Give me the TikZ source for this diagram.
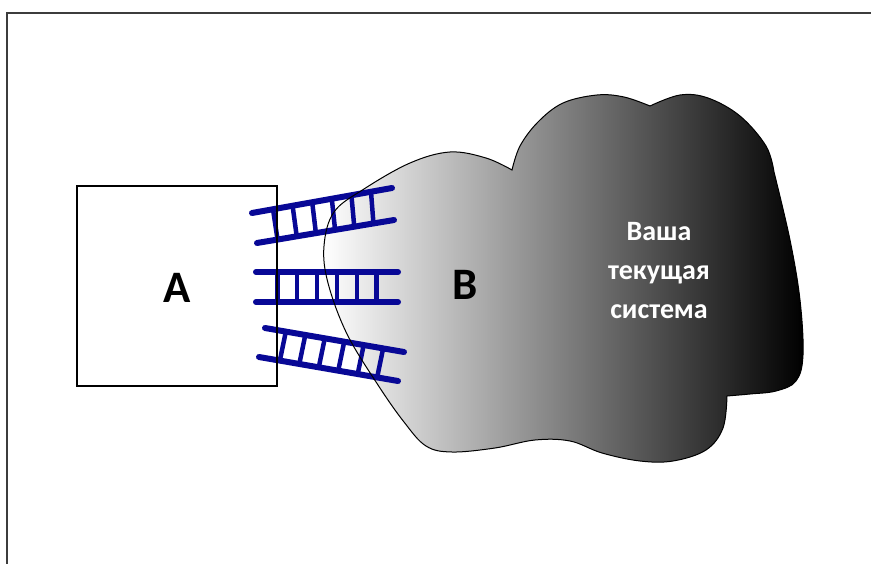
\documentclass[tikz,border=0pt]{standalone}
\usepackage{fontspec}
\setmainfont{Carlito}
\usetikzlibrary{calc}

\definecolor{ladderblue}{RGB}{8,8,150}
\definecolor{framegray}{RGB}{60,60,60}

% ladder: #1,#2 = ends of the upper rail, #3,#4 = ends of the lower rail
\newcommand{\drawladder}[4]{%
  \draw[rail] #1 -- #2;
  \draw[rail] #3 -- #4;
  \foreach \t in {0.15,0.29,0.43,0.57,0.71,0.85}
    \draw[rung] ($#1!\t!#2$) -- ($#3!\t!#4$);
}

\tikzset{
  rail/.style={ladderblue, line width=6pt, line cap=round},
  rung/.style={ladderblue, line width=4.5pt},
  bigletter/.style={font=\bfseries\fontsize{45}{54}\selectfont, text=black},
  cloudtext/.style={font=\bfseries\fontsize{28}{39}\selectfont, text=white, align=center},
}

\begin{document}
\begin{tikzpicture}[x=1pt,y=-1pt]
\useasboundingbox (0,0) rectangle (871,564);
\fill[white] (0,0) rectangle (871,564);

% outer frame, open at the right and at the bottom
\draw[framegray, line width=2pt] (7,564) -- (7,13) -- (871,13);

% the cloud outline
\def\cloudpath{
  (512,170)
  -- plot[smooth, tension=0.6] coordinates {(512,170) (520,146) (538,122) (563,103) (597,95) (624,97) (650,106)}
  -- plot[smooth, tension=0.6] coordinates {(650,106) (680,95) (708,98) (740,116) (766,146) (774,172)}
  -- plot[smooth, tension=0.6] coordinates {(774,172) (790,240) (800,300) (803,355) (796,381) (776,391) (750,394) (727,396)}
  -- plot[smooth, tension=0.6] coordinates {(727,396) (723,428) (706,450) (673,461) (640,461) (602,453) (570,441) (535,440) (495,448) (452,452) (426,446) (404,422) (378,385) (347,334) (328,283) (324,246) (334,212) (364,189) (410,163) (450,152) (486,158) (512,170)}
  -- cycle
}
\shade[left color=white, right color=black] \cloudpath;

% three ladders
\drawladder{(252,213)}{(392,188)}{(257,243)}{(394,220)}
\drawladder{(256,272)}{(398,272)}{(256,302)}{(398,302)}
\drawladder{(265,328)}{(404,352)}{(259,357)}{(398,381)}

\draw[black, line width=1pt] \cloudpath;

% box A
\node[draw=black, line width=2.2pt, minimum width=200pt, minimum height=200pt, inner sep=0pt] (boxA) at (177,286) {};
\node[bigletter] (labelA) at (177,288) {A};
\node[bigletter] (labelB) at (465,285) {B};
\node[cloudtext] (sys) at (659,271) {Ваша\\текущая\\система};
\end{tikzpicture}
\end{document}
